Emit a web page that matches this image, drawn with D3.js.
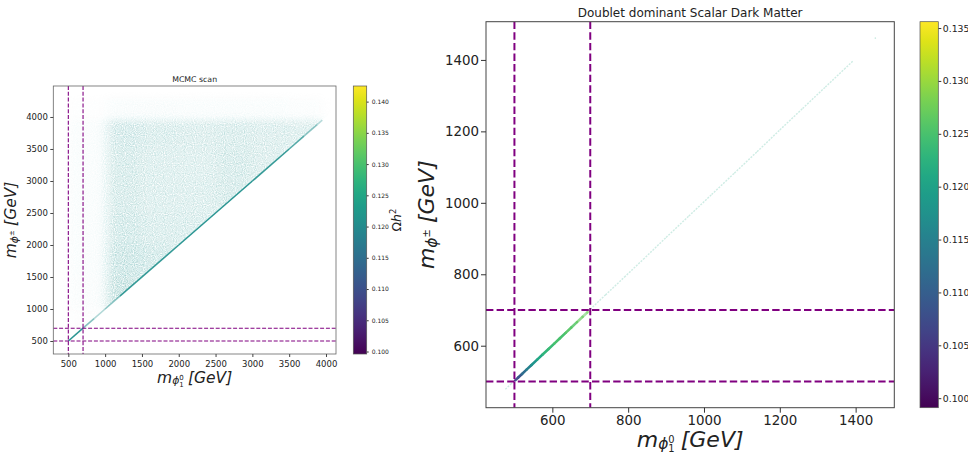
<!DOCTYPE html>
<html>
<head>
<meta charset="utf-8">
<script src="https://cdn.jsdelivr.net/npm/d3@7"></script>
<style>
  body { margin: 0; background: #fff; }
  svg { display: block; }
  text { font-family: "DejaVu Sans", sans-serif; fill: #222; }
</style>
</head>
<body>
<svg id="fig" width="968" height="455"></svg>
<script>
// ---------------- data ----------------
// Mass cuts (GeV) marked by dashed guide lines on both panels
const cutMasses = [500, 700];

// MCMC scan: relative density of accepted points, binned in (m_phi1^0, m_phi^±)
const scanEdgesM0 = [500, 1030, 1500, 2000, 2500, 3000, 3500, 3960];
const scanEdgesMp = [500, 1000, 1500, 2000, 2500, 3000, 3500, 3950, 4300];
const scanDensity = [            // rows: m_phi^± bins (low → high), cols: m_phi1^0 bins
  [0.04, 0.00, 0.00, 0.00, 0.00, 0.00, 0.00],
  [0.08, 0.95, 0.00, 0.00, 0.00, 0.00, 0.00],
  [0.09, 0.85, 0.75, 0.00, 0.00, 0.00, 0.00],
  [0.09, 0.75, 0.65, 0.65, 0.00, 0.00, 0.00],
  [0.09, 0.70, 0.60, 0.60, 0.70, 0.00, 0.00],
  [0.09, 0.70, 0.60, 0.58, 0.70, 0.62, 0.00],
  [0.09, 0.72, 0.65, 0.62, 0.66, 0.62, 0.58],
  [0.03, 0.10, 0.10, 0.09, 0.09, 0.09, 0.07]
];
// Degenerate branch m_phi^± ≈ m_phi1^0 of the scan, with relative point density
const scanDiagMass = [500, 700, 850, 1000, 1200, 2000, 3000, 3500, 3700, 3880, 3950];
const scanDiagDensity = [0.95, 0.55, 0.35, 0.5, 0.9, 0.95, 0.9, 0.75, 0.5, 0.3, 0.2];
const scanOmega = 0.121;

// Doublet dominant points with the relic density
const ddM0 = [502, 510, 520, 532, 545, 560, 575, 590, 605, 620, 635, 650, 665, 680, 692, 700];
const ddMp = [503, 511, 521, 533, 546, 561, 576, 591, 606, 621, 636, 651, 666, 681, 693, 701];
const ddOmega = [0.107, 0.109, 0.112, 0.115, 0.118, 0.121, 0.123, 0.124, 0.125, 0.125, 0.126, 0.126, 0.127, 0.127, 0.128, 0.128];
const ddDensity = [0.95, 1, 1, 1, 1, 1, 1, 1, 1, 1, 0.95, 0.85, 0.7, 0.55, 0.45, 0.4];
// Sparse points outside the mass window
const ddSparseM0 = [476, 490, 502, 700, 740, 790, 840, 900, 960, 1020, 1080, 1140, 1200, 1260, 1320, 1370, 1393];
const ddSparseMp = [478, 492, 504, 702, 742, 792, 842, 903, 963, 1023, 1083, 1143, 1204, 1264, 1324, 1374, 1397];
const ddSparseOmega = 0.121;
const ddStray = [[1452, 1461]];

// Colour bar ranges and ticks
const cbarLeftRange = [0.0996, 0.1425];
const cbarLeftTicks = [0.100, 0.105, 0.110, 0.115, 0.120, 0.125, 0.130, 0.135, 0.140];
const cbarRightRange = [0.0991, 0.1356];
const cbarRightTicks = [0.100, 0.105, 0.110, 0.115, 0.120, 0.125, 0.130, 0.135];

const leftTicksX = [500, 1000, 1500, 2000, 2500, 3000, 3500, 4000];
const leftTicksY = [500, 1000, 1500, 2000, 2500, 3000, 3500, 4000];
const rightTicksX = [600, 800, 1000, 1200, 1400];
const rightTicksY = [600, 800, 1000, 1200, 1400];

// ---------------- layout ----------------
const svg = d3.select('#fig');
svg.append('rect').attr('width', 968).attr('height', 455).attr('fill', '#fff');
const defs = svg.append('defs');
const PURPLE = '#800080';

const L = { x0: 53.3, x1: 336, y0: 86, y1: 354 };
const R = { x0: 486, x1: 894.3, y0: 21.7, y1: 407.7 };

const xL = d3.scaleLinear().domain([296, 4136]).range([L.x0, L.x1]);
const yL = d3.scaleLinear().domain([297, 4484]).range([L.y1, L.y0]);
const xR = d3.scaleLinear().domain([425, 1502]).range([R.x0, R.x1]);
const yR = d3.scaleLinear().domain([426.5, 1507]).range([R.y1, R.y0]);

const cL = d3.scaleSequential(d3.interpolateViridis).domain(cbarLeftRange);
const cR = d3.scaleSequential(d3.interpolateViridis).domain(cbarRightRange);

// clip paths for both panels
defs.append('clipPath').attr('id', 'clipL').append('rect')
  .attr('x', L.x0).attr('y', L.y0).attr('width', L.x1 - L.x0).attr('height', L.y1 - L.y0);
defs.append('clipPath').attr('id', 'clipR').append('rect')
  .attr('x', R.x0).attr('y', R.y0).attr('width', R.x1 - R.x0).attr('height', R.y1 - R.y0);
// region above the diagonal m_phi^± >= m_phi1^0
const upper = [[296, 296], [4136, 4136], [4136, 4484], [296, 4484]];
defs.append('clipPath').attr('id', 'clipUpper').append('polygon')
  .attr('points', upper.map(p => [xL(p[0]), yL(p[1])].join(',')).join(' '));
// smooth the binned density, then break it into fine speckle like a dense scatter
const region = { x: L.x0 - 20, y: L.y0 - 20, width: L.x1 - L.x0 + 40, height: L.y1 - L.y0 + 40 };
const soft = defs.append('filter').attr('id', 'soft').attr('filterUnits', 'userSpaceOnUse')
  .attr('x', region.x).attr('y', region.y).attr('width', region.width).attr('height', region.height);
soft.append('feGaussianBlur').attr('stdDeviation', '5.5 3.5');
const grain = defs.append('filter').attr('id', 'grain').attr('filterUnits', 'userSpaceOnUse')
  .attr('x', region.x).attr('y', region.y).attr('width', region.width).attr('height', region.height);
grain.append('feTurbulence').attr('type', 'fractalNoise').attr('baseFrequency', 0.9)
  .attr('numOctaves', 1).attr('seed', 4).attr('result', 'noise');
grain.append('feColorMatrix').attr('in', 'noise').attr('type', 'matrix')
  .attr('values', '0 0 0 0 0  0 0 0 0 0  0 0 0 0 0  1.8 0 0 0 -0.4').attr('result', 'speck');
grain.append('feComposite').attr('in', 'SourceGraphic').attr('in2', 'speck').attr('operator', 'in');

// ---------------- helpers ----------------
function frame(g, box, color, w) {
  g.append('rect').attr('x', box.x0).attr('y', box.y0)
    .attr('width', box.x1 - box.x0).attr('height', box.y1 - box.y0)
    .attr('fill', 'none').attr('stroke', color).attr('stroke-width', w);
}
function styleAxis(g, fs, tickColor) {
  g.select('.domain').remove();
  g.selectAll('.tick line').attr('stroke', tickColor);
  g.selectAll('.tick text').attr('font-size', fs).attr('fill', '#222')
    .attr('font-family', '"DejaVu Sans", sans-serif');
}
// m_{phi_1^0} [GeV]
function labelM0(t, F) {
  t.append('tspan').attr('font-style', 'italic').text('m');
  t.append('tspan').attr('font-style', 'italic').attr('font-size', 0.7 * F).attr('dy', 0.1 * F).text('ϕ');
  t.append('tspan').attr('font-size', 0.45 * F).attr('dy', 0.16 * F).text('1');
  t.append('tspan').attr('font-size', 0.45 * F).attr('dx', -0.29 * F).attr('dy', -0.42 * F).text('0');
  t.append('tspan').attr('font-style', 'italic').attr('font-size', F)
    .attr('dx', 0.28 * F).attr('dy', 0.16 * F).text('[GeV]');
}
// m_{phi^±} [GeV]
function labelMp(t, F) {
  t.append('tspan').attr('font-style', 'italic').text('m');
  t.append('tspan').attr('font-style', 'italic').attr('font-size', 0.7 * F).attr('dy', 0.14 * F).text('ϕ');
  t.append('tspan').attr('font-size', 0.45 * F).attr('dy', -0.3 * F).text('±');
  t.append('tspan').attr('font-style', 'italic').attr('font-size', F)
    .attr('dx', 0.28 * F).attr('dy', 0.16 * F).text('[GeV]');
}
function colorbar(id, box, range, ticks, fs, tickLen, pad, fmt) {
  const grad = defs.append('linearGradient').attr('id', id)
    .attr('x1', 0).attr('y1', 1).attr('x2', 0).attr('y2', 0);
  d3.range(0, 21).forEach(i => {
    grad.append('stop').attr('offset', i / 20).attr('stop-color', d3.interpolateViridis(i / 20));
  });
  svg.append('rect').attr('x', box.x0).attr('y', box.y0)
    .attr('width', box.x1 - box.x0).attr('height', box.y1 - box.y0)
    .attr('fill', `url(#${id})`);
  const y = d3.scaleLinear().domain(range).range([box.y1, box.y0]);
  const ax = svg.append('g').attr('transform', `translate(${box.x1},0)`)
    .call(d3.axisRight(y).tickValues(ticks).tickFormat(fmt).tickSize(tickLen).tickPadding(pad));
  styleAxis(ax, fs, '#333');
  frame(svg, box, '#555', 0.7);
}

// ---------------- left panel: MCMC scan ----------------
const gL = svg.append('g');
const scanLayer = gL.append('g').attr('clip-path', 'url(#clipL)')
  .append('g').attr('clip-path', 'url(#clipUpper)')
  .append('g').attr('filter', 'url(#grain)');
const cells = scanLayer.append('g').attr('filter', 'url(#soft)');
scanDensity.forEach((row, r) => {
  row.forEach((d, c) => {
    if (d <= 0) return;
    cells.append('rect')
      .attr('x', xL(scanEdgesM0[c]))
      .attr('y', yL(scanEdgesMp[r + 1]))
      .attr('width', xL(scanEdgesM0[c + 1]) - xL(scanEdgesM0[c]))
      .attr('height', yL(scanEdgesMp[r]) - yL(scanEdgesMp[r + 1]))
      .attr('fill', cL(scanOmega))
      .attr('fill-opacity', d * 0.42);
  });
});
// degenerate branch
const diagG = gL.append('g').attr('clip-path', 'url(#clipL)');
for (let i = 0; i < scanDiagMass.length - 1; i++) {
  diagG.append('line')
    .attr('x1', xL(scanDiagMass[i])).attr('y1', yL(scanDiagMass[i]))
    .attr('x2', xL(scanDiagMass[i + 1])).attr('y2', yL(scanDiagMass[i + 1]))
    .attr('stroke', cL(scanOmega)).attr('stroke-width', 1.6)
    .attr('stroke-opacity', scanDiagDensity[i]);
}
// dashed mass cuts
const cutsL = gL.append('g').attr('clip-path', 'url(#clipL)');
cutMasses.forEach(m => {
  cutsL.append('line').attr('x1', xL(m)).attr('x2', xL(m)).attr('y1', L.y0).attr('y2', L.y1)
    .attr('stroke', PURPLE).attr('stroke-width', 1.1).attr('stroke-dasharray', '4,1.8');
  cutsL.append('line').attr('y1', yL(m)).attr('y2', yL(m)).attr('x1', L.x0).attr('x2', L.x1)
    .attr('stroke', PURPLE).attr('stroke-width', 1.1).attr('stroke-dasharray', '4,1.8');
});
frame(gL, L, '#666', 0.8);
const axLx = gL.append('g').attr('transform', `translate(0,${L.y1})`)
  .call(d3.axisBottom(xL).tickValues(leftTicksX).tickFormat(d3.format('d')).tickSize(3).tickPadding(3.5));
styleAxis(axLx, 8.5, '#444');
const axLy = gL.append('g').attr('transform', `translate(${L.x0},0)`)
  .call(d3.axisLeft(yL).tickValues(leftTicksY).tickFormat(d3.format('d')).tickSize(3).tickPadding(2.5));
styleAxis(axLy, 8.5, '#444');
gL.append('text').attr('x', (L.x0 + L.x1) / 2).attr('y', 82).attr('text-anchor', 'middle')
  .attr('font-size', 7.8).text('MCMC scan');
labelM0(gL.append('text').attr('x', (L.x0 + L.x1) / 2).attr('y', 382.5)
  .attr('text-anchor', 'middle').attr('font-size', 15.5), 15.5);
labelMp(gL.append('text').attr('transform', `translate(16,${(L.y0 + L.y1) / 2}) rotate(-90)`)
  .attr('text-anchor', 'middle').attr('font-size', 15.5), 15.5);

colorbar('vir1', { x0: 353.3, x1: 366.7, y0: L.y0, y1: L.y1 }, cbarLeftRange,
  cbarLeftTicks, 6, 2, 3, d3.format('.3f'));
const om = svg.append('text').attr('transform', `translate(401,${(L.y0 + L.y1) / 2}) rotate(-90)`)
  .attr('text-anchor', 'middle').attr('font-size', 12.5);
om.append('tspan').text('Ω');
om.append('tspan').attr('font-style', 'italic').text('h');
om.append('tspan').attr('font-size', 8.5).attr('dy', -5).text('2');

// ---------------- right panel: doublet dominant ----------------
const gR = svg.append('g');
const ptsR = gR.append('g').attr('clip-path', 'url(#clipR)');
// sparse points outside the window
for (let i = 0; i < ddSparseM0.length - 1; i++) {
  if (ddSparseM0[i] === 502) continue;      // window is drawn separately
  ptsR.append('line')
    .attr('x1', xR(ddSparseM0[i])).attr('y1', yR(ddSparseMp[i]))
    .attr('x2', xR(ddSparseM0[i + 1])).attr('y2', yR(ddSparseMp[i + 1]))
    .attr('stroke', cR(ddSparseOmega)).attr('stroke-width', 1.4)
    .attr('stroke-opacity', 0.22).attr('stroke-dasharray', '2,1.2');
}
ddStray.forEach(p => {
  ptsR.append('circle').attr('cx', xR(p[0])).attr('cy', yR(p[1])).attr('r', 0.8)
    .attr('fill', cR(ddSparseOmega)).attr('fill-opacity', 0.25);
});
// points inside the mass window, coloured by relic density
for (let i = 0; i < ddM0.length - 1; i++) {
  ptsR.append('line')
    .attr('x1', xR(ddM0[i])).attr('y1', yR(ddMp[i]))
    .attr('x2', xR(ddM0[i + 1])).attr('y2', yR(ddMp[i + 1]))
    .attr('stroke', cR(ddOmega[i])).attr('stroke-width', 2.6)
    .attr('stroke-linecap', 'round')
    .attr('stroke-opacity', ddDensity[i]);
}
const cutsR = gR.append('g').attr('clip-path', 'url(#clipR)');
cutMasses.forEach(m => {
  cutsR.append('line').attr('x1', xR(m)).attr('x2', xR(m)).attr('y1', R.y0).attr('y2', R.y1)
    .attr('stroke', PURPLE).attr('stroke-width', 2).attr('stroke-dasharray', '7.4,3.2');
  cutsR.append('line').attr('y1', yR(m)).attr('y2', yR(m)).attr('x1', R.x0).attr('x2', R.x1)
    .attr('stroke', PURPLE).attr('stroke-width', 2).attr('stroke-dasharray', '7.4,3.2');
});
frame(gR, R, '#444', 1);
const axRx = gR.append('g').attr('transform', `translate(0,${R.y1})`)
  .call(d3.axisBottom(xR).tickValues(rightTicksX).tickFormat(d3.format('d')).tickSize(5).tickPadding(2.8));
styleAxis(axRx, 13.4, '#333');
const axRy = gR.append('g').attr('transform', `translate(${R.x0},0)`)
  .call(d3.axisLeft(yR).tickValues(rightTicksY).tickFormat(d3.format('d')).tickSize(5).tickPadding(2));
styleAxis(axRy, 13.4, '#333');
gR.append('text').attr('x', (R.x0 + R.x1) / 2).attr('y', 16.5).attr('text-anchor', 'middle')
  .attr('font-size', 12).text('Doublet dominant Scalar Dark Matter');
labelM0(gR.append('text').attr('x', (R.x0 + R.x1) / 2).attr('y', 446.5)
  .attr('text-anchor', 'middle').attr('font-size', 22), 22);
labelMp(gR.append('text').attr('transform', `translate(434,${(R.y0 + R.y1) / 2}) rotate(-90)`)
  .attr('text-anchor', 'middle').attr('font-size', 22), 22);

colorbar('vir2', { x0: 920, x1: 938.3, y0: R.y0, y1: R.y1 }, cbarRightRange,
  cbarRightTicks, 9.3, 3, 1.5, d3.format('.3f'));
</script>
</body>
</html>
